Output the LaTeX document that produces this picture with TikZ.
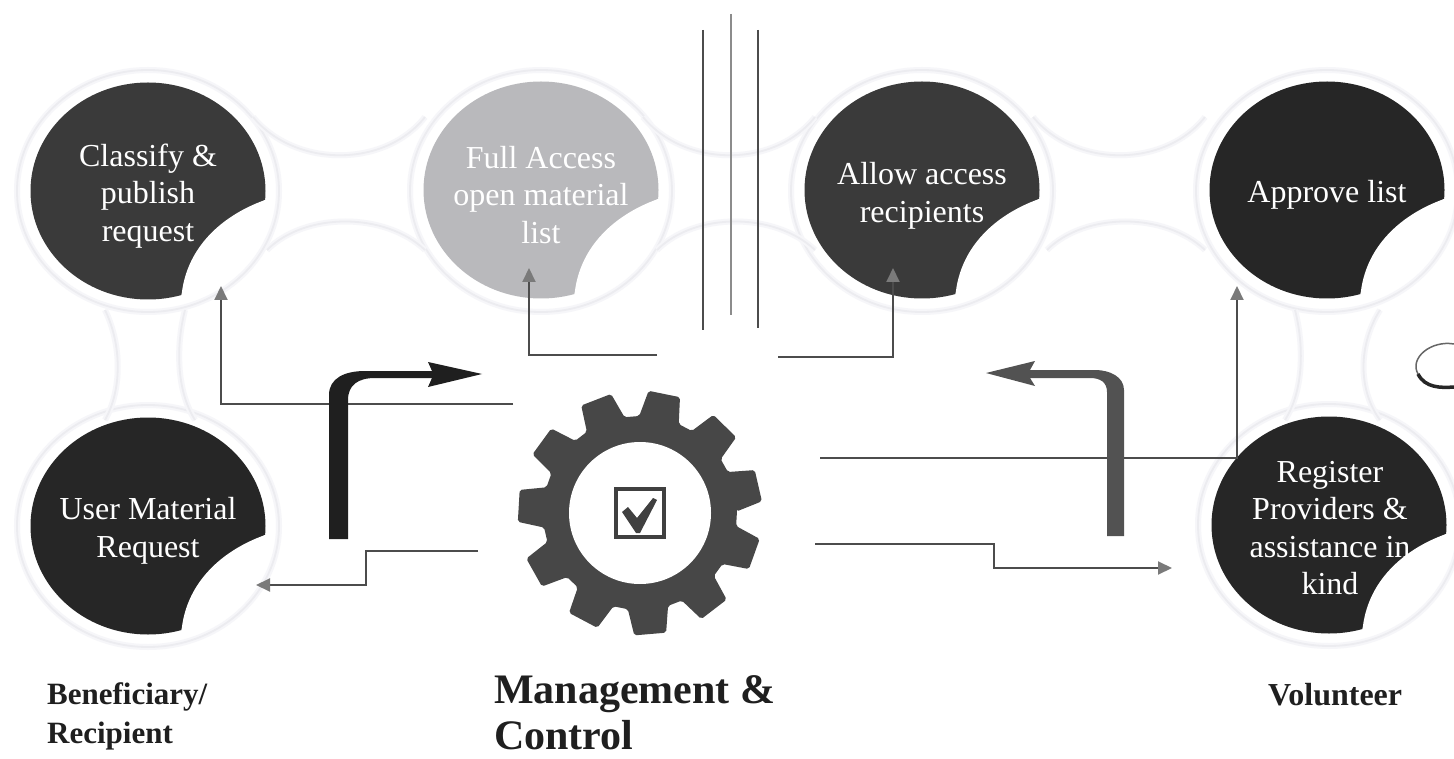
\documentclass[tikz,border=0pt]{standalone}
\usepackage{fontspec}
\setmainfont{Liberation Serif}
\usetikzlibrary{shapes.geometric,calc,arrows.meta}
\definecolor{disca}{HTML}{3A3A3A}
\definecolor{discb}{HTML}{262626}
\definecolor{discc}{HTML}{B9B9BC}
\definecolor{halo}{HTML}{ECECF0}
\definecolor{halosoft}{HTML}{F6F6F9}
\definecolor{conn}{HTML}{4C4C4C}
\definecolor{tipgrey}{HTML}{7A7A7A}
\newcommand{\biteat}[1]{($(#1)+(120,8)$) .. controls ($(#1)+(78,22)$) and ($(#1)+(35,55)$) .. ($(#1)+(33,112)$) -- ($(#1)+(125,125)$) -- ($(#1)+(125,8)$) -- cycle}
\tikzset{
  disc/.style={ellipse,inner sep=0pt,minimum width=235pt,minimum height=217pt,
    path picture={\fill[white] \biteat{path picture bounding box.center};}},
  disctext/.style={text=white,align=center,inner sep=0pt,font=\fontsize{32}{37.5}\selectfont},
  ringline/.style={draw=halo,line width=1.8pt,preaction={draw=halosoft,line width=6pt}},
  thin conn/.style={draw=conn,line width=2pt},
  tipped/.style={thin conn,-{Triangle[length=14pt,width=13pt,fill=tipgrey,color=tipgrey]}},
  rail/.style={draw=conn,line width=2.4pt},
  caption/.style={font=\bfseries\fontsize{31}{39}\selectfont,align=left,anchor=north west,inner sep=0pt,text=black!88},
  gearfill/.style={fill=black!72}
}
\begin{document}
\begin{tikzpicture}[x=1pt,y=-1pt]
\useasboundingbox (0,0) rectangle (1454,759);
\fill[white] (0,0) rectangle (1454,759);
% faint lattice
\foreach \c in {148,541,922,1327}{\path[ringline] (\c,191) ellipse [x radius=131,y radius=121];}
\foreach \a/\b in {148/526,1329/525}{\path[ringline] (\a,\b) ellipse [x radius=131,y radius=121];}
\foreach \c in {345,735,1125}{
  \path[ringline] (\c-92,117) .. controls (\c-50,168) and (\c+40,168) .. (\c+80,117);
  \path[ringline] (\c-78,250) .. controls (\c-40,212) and (\c+40,212) .. (\c+80,250);
}
\path[ringline] (105,310) .. controls (122,345) and (122,390) .. (105,420);
\path[ringline] (185,310) .. controls (176,345) and (176,390) .. (195,420);
\path[ringline] (1295,310) .. controls (1304,345) and (1304,390) .. (1285,420);
\path[ringline] (1380,310) .. controls (1358,345) and (1358,390) .. (1380,420);
% discs
\node[disc,fill=disca] (classify) at (148,191) {};
\node[disc,fill=discc] (full) at (541,190) {};
\node[disc,fill=disca] (allow) at (922,190) {};
\node[disc,fill=discb] (approve) at (1327,190) {};
\node[disc,fill=discb] (user) at (148,526) {};
\node[disc,fill=discb] (register) at (1329,525) {};
\foreach \n in {classify,full,allow,approve,user,register}{
  \begin{scope}
    \clip \biteat{\n.center};
    \draw[white,line width=2.5pt] (\n.center) ellipse [x radius=117.5,y radius=108.5];
  \end{scope}
}
\node[disctext] (classifyT) at ($(classify)+(0,5)$) {Classify \&\\publish\\request};
\node[disctext] (fullT) at ($(full)+(0,5)$) {Full Access\\open material\\list};
\node[disctext] (allowT) at ($(allow)+(0,6)$) {Allow access\\recipients};
\node[disctext] (approveT) at ($(approve)+(0,5)$) {Approve list};
\node[disctext] (userT) at ($(user)+(0,5)$) {User Material\\Request};
\node[disctext] (registerT) at ($(register)+(1,3)$) {Register\\Providers \&\\assistance in\\kind};
% rails
\coordinate (r1a) at (703,30); \coordinate (r1b) at (703,330);
\coordinate (r2a) at (731,14); \coordinate (r2b) at (731,315);
\coordinate (r3a) at (758,30); \coordinate (r3b) at (758,328);
\draw[rail] (r1a)--(r1b); \draw[rail,draw=black!45] (r2a)--(r2b); \draw[rail] (r3a)--(r3b);
% gear
\begin{scope}[shift={(640,513)}]
\fill[gearfill,rounded corners=2pt] (1:97pt)
  \foreach \k in {0,...,10}{
    -- ({13+\k*32.727-12}:97pt) -- ({13+\k*32.727-7.5}:122.5pt) -- ({13+\k*32.727+7.5}:122.5pt) -- ({13+\k*32.727+12}:97pt)
  } -- cycle;
\fill[white] (0,0) circle [radius=71];
\end{scope}
\node[draw=black!75,line width=4pt,minimum size=48pt,inner sep=0pt] (box) at (640,513) {};
\coordinate (chk) at (480,370);
\fill[black!75] ($(chk)+(142,142)$) -- ($(chk)+(148,137)$) -- ($(chk)+(157,148)$) -- ($(chk)+(173,128)$) -- ($(chk)+(177,130)$) -- ($(chk)+(160,163)$) -- ($(chk)+(156,163)$) -- cycle;
% connectors
\coordinate (g1) at (513,404); \coordinate (k1) at (221,404); \coordinate (e1) at (221,286);
\draw[tipped] (g1) -- (k1) -- (e1);
\coordinate (g2) at (657,355); \coordinate (k2) at (529,355); \coordinate (e2) at (529,268);
\draw[tipped] (g2) -- (k2) -- (e2);
\coordinate (g3) at (778,357); \coordinate (k3) at (893,357); \coordinate (e3) at (893,268);
\draw[tipped] (g3) -- (k3) -- (e3);
\coordinate (g4) at (820,458); \coordinate (k4) at (1237,458); \coordinate (e4) at (1237,286);
\draw[tipped] (g4) -- (k4) -- (e4);
\coordinate (g5) at (478,551); \coordinate (k5a) at (366,551); \coordinate (k5b) at (366,585); \coordinate (e5) at (256,585);
\draw[tipped] (g5) -- (k5a) -- (k5b) -- (e5);
\coordinate (g6) at (815,544); \coordinate (k6a) at (994,544); \coordinate (k6b) at (994,568); \coordinate (e6) at (1172,568);
\draw[tipped] (g6) -- (k6a) -- (k6b) -- (e6);
% heavy arrows
\fill[black!88] (329,539) -- (329,395) .. controls (329,378) and (345,371) .. (365,371) -- (432,371) -- (428,362) -- (482,374) -- (428,387) -- (432,378) -- (375,378) .. controls (358,378) and (348,385) .. (348,400) -- (348,539) -- cycle;
\fill[black!68] (1124,536) -- (1124,390) .. controls (1124,377) and (1110,370) .. (1095,370) -- (1030,370) -- (1035,361) -- (986,373) -- (1035,386) -- (1030,378) -- (1090,378) .. controls (1100,378) and (1107,382) .. (1107,392) -- (1107,536) -- cycle;
% edge blob
\coordinate (blob) at (1445,366);
\draw[black!60,line width=1.5pt] ($(blob)+(9,-22)$) .. controls ($(blob)+(-14,-26)$) and ($(blob)+(-36,-8)$) .. ($(blob)+(-27,8)$);
\draw[black!85,line width=3.5pt] ($(blob)+(-27,8)$) .. controls ($(blob)+(-20,22)$) and ($(blob)+(-4,22)$) .. ($(blob)+(9,21)$);
% captions
\node[caption] (cap1) at (47,682) {Beneficiary/\\Recipient};
\node[caption,font=\bfseries\fontsize{42}{46}\selectfont] (cap2) at (494,675) {Management \&\\Control};
\node[caption,font=\bfseries\fontsize{32}{39}\selectfont] (cap3) at (1268,683) {Volunteer};
\end{tikzpicture}
\end{document}
